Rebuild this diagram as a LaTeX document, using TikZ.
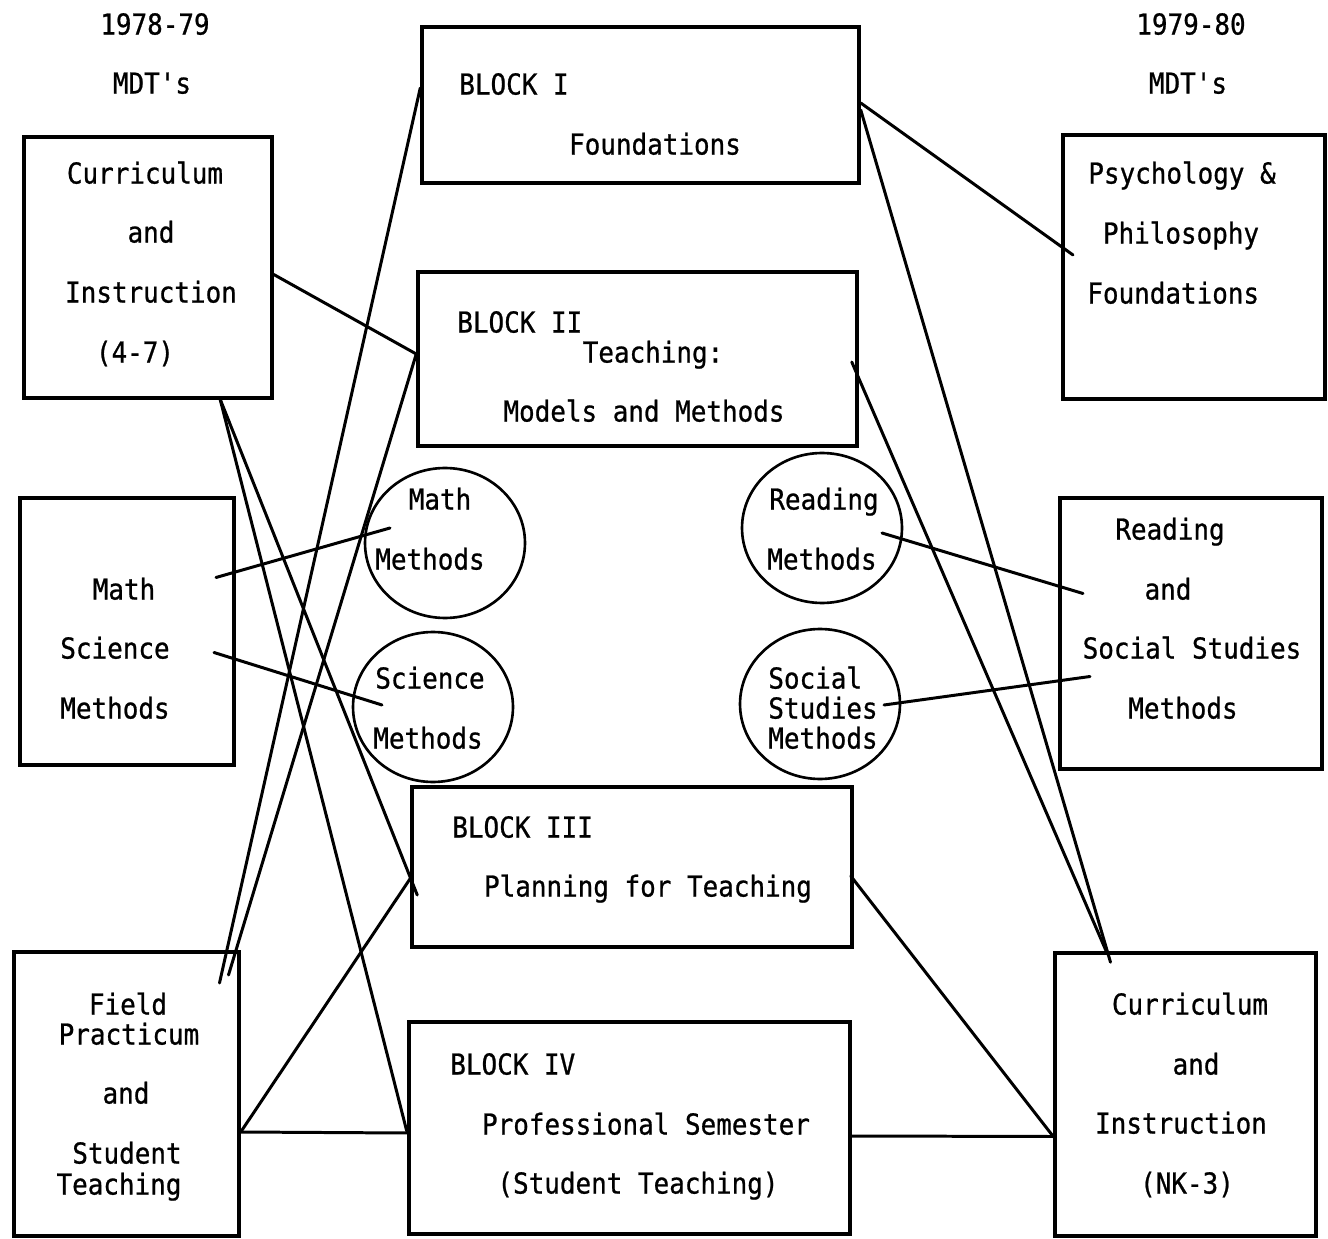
\documentclass[tikz,border=0pt]{standalone}
\usepackage{fontspec}
\newfontfamily\typewriter[FakeStretch=0.9, FakeBold=0.8]{DejaVu Sans Mono}
\usetikzlibrary{calc, fit, shapes.geometric}

\begin{document}
\begin{tikzpicture}[x=0.02cm, y=-0.02cm,
    box/.style={draw, line width=2pt, inner sep=0pt},
    methods/.style={draw, ellipse, line width=1.5pt, inner sep=0pt, minimum width=3.2cm, minimum height=3cm},
    txt/.style={font=\typewriter\fontsize{16.4}{18}\selectfont, inner sep=0pt, text height=12pt, text depth=0pt},
    link/.style={line width=1.7pt, line cap=round}]
    \useasboundingbox (0,0) rectangle (1328,1239);

    % Year headings
    \node[txt] at (155,24) {1978-79};
    \node[txt] at (152,83) {MDT's};
    \node[txt] at (1191,24) {1979-80};
    \node[txt] at (1188,83) {MDT's};

    % 1978-79 MDT boxes (left)
    \node[box, fit={(24,137) (272,398)}] (ci) {};
    \node[txt] at (145,173) {Curriculum};
    \node[txt] at (151,232) {and};
    \node[txt] at (151,292) {Instruction};
    \node[txt] at (135,352) {(4-7)};

    \node[box, fit={(20,498) (234,765)}] (ms) {};
    \node[txt] at (124,589) {Math};
    \node[txt] at (115,648) {Science};
    \node[txt] at (115,708) {Methods};

    \node[box, fit={(14,952) (239,1236)}] (fp) {};
    \node[txt] at (128,1004) {Field};
    \node[txt] at (129,1034) {Practicum};
    \node[txt] at (126,1093) {and};
    \node[txt] at (127,1153) {Student};
    \node[txt] at (119,1184) {Teaching};

    % Blocks (centre)
    \node[box, fit={(422,27) (859,183)}] (b1) {};
    \node[txt, anchor=west] at (459,84) {BLOCK I};
    \node[txt] at (655,144) {Foundations};

    \node[box, fit={(418,272) (857,446)}] (b2) {};
    \node[txt, anchor=west] at (457,322) {BLOCK II};
    \node[txt] at (653,352) {Teaching:};
    \node[txt] at (644,411) {Models and Methods};

    \node[box, fit={(412,787) (852,947)}] (b3) {};
    \node[txt, anchor=west] at (452,827) {BLOCK III};
    \node[txt] at (648,886) {Planning for Teaching};

    \node[box, fit={(409,1022) (850,1234)}] (b4) {};
    \node[txt, anchor=west] at (450,1064) {BLOCK IV};
    \node[txt] at (646,1124) {Professional Semester};
    \node[txt] at (638,1183) {(Student Teaching)};

    % Methods circles
    \node[methods] (mm) at (445,543) {};
    \node[txt] at (440,499) {Math};
    \node[txt] at (430,559) {Methods};

    \node[methods] (sm) at (433,707) {};
    \node[txt] at (430,678) {Science};
    \node[txt] at (428,738) {Methods};

    \node[methods] (rm) at (822,528) {};
    \node[txt] at (824,499) {Reading};
    \node[txt] at (822,559) {Methods};

    \node[methods] (ss) at (820,704) {};
    \node[txt, anchor=west] at (768,678) {Social};
    \node[txt, anchor=west] at (768,708) {Studies};
    \node[txt, anchor=west] at (768,738) {Methods};

    % 1979-80 MDT boxes (right)
    \node[box, fit={(1063,135) (1325,399)}] (pp) {};
    \node[txt, anchor=west] at (1088,173) {Psychology \&};
    \node[txt] at (1181,233) {Philosophy};
    \node[txt, anchor=west] at (1087,293) {Foundations};

    \node[box, fit={(1060,498) (1322,769)}] (rs) {};
    \node[txt] at (1170,529) {Reading};
    \node[txt] at (1168,589) {and};
    \node[txt] at (1192,648) {Social Studies};
    \node[txt] at (1183,708) {Methods};

    \node[box, fit={(1055,953) (1316,1236)}] (cn) {};
    \node[txt] at (1190,1004) {Curriculum};
    \node[txt] at (1196,1064) {and};
    \node[txt] at (1181,1123) {Instruction};
    \node[txt] at (1187,1183) {(NK-3)};

    % Links, left side
    \draw[link] ($(b1.west)+(0,-17)$) -- ($(fp.center)+(93,-111)$);
    \draw[link] ($(b2.west)+(0,-5)$) -- ($(fp.center)+(102,-119)$);
    \draw[link] ($(ci.east)+(0,7)$) -- ($(b2.west)+(0,-5)$);
    \draw[link] ($(ci.south)+(72,-1)$) -- ($(b3.west)+(7,28)$);
    \draw[link] ($(ci.south)+(72,-1)$) -- ($(b4.west)+(0,5)$);
    \draw[link] ($(fp.east)+(0,38)$) -- ($(b4.west)+(0,5)$);
    \draw[link] ($(fp.east)+(0,38)$) -- ($(b3.west)+(1,10)$);
    \draw[link] ($(ms.center)+(89,-54)$) -- ($(mm.center)+(-55,-15)$);
    \draw[link] ($(ms.center)+(87,21)$) -- ($(sm.center)+(-51,-2)$);

    % Links, right side
    \draw[link] ($(b1.east)+(0,-2)$) -- ($(pp.center)+(-121,-12)$);
    \draw[link] ($(b1.east)+(0,5)$) -- ($(cn.north)+(-75,11)$);
    \draw[link] ($(b2.east)+(-7,3)$) -- ($(cn.north)+(-78,3)$);
    \draw[link] ($(rm.center)+(60,5)$) -- ($(rs.center)+(-108,-40)$);
    \draw[link] ($(ss.center)+(64,1)$) -- ($(rs.center)+(-101,43)$);
    \draw[link] ($(b3.east)+(-3,9)$) -- ($(cn.west)+(0,42)$);
    \draw[link] ($(b4.east)+(0,8)$) -- ($(cn.west)+(0,42)$);
\end{tikzpicture}
\end{document}
